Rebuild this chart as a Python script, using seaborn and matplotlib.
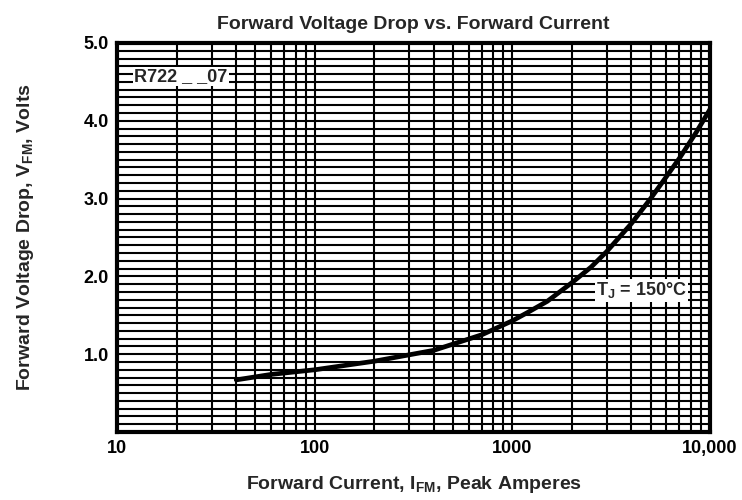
import numpy as np
import pandas as pd
import seaborn as sns
import matplotlib.pyplot as plt
from matplotlib.ticker import MultipleLocator, LogLocator, FixedLocator, NullFormatter

# curve
current = [40, 60, 100, 200, 400, 700, 1000, 1200, 1500, 2000, 2500, 3000, 4000,
           5000, 6000, 7000, 8500, 10000]
voltage = [0.67, 0.74, 0.80, 0.91, 1.05, 1.25, 1.43, 1.54, 1.68, 1.92, 2.12, 2.32, 2.68,
           3.00, 3.28, 3.52, 3.85, 4.15]

x_ticks = [10, 100, 1000, 10000]
x_labels = ["10", "100", "1000", "10,000"]
y_ticks = [1.0, 2.0, 3.0, 4.0, 5.0]
y_labels = ["1.0", "2.0", "3.0", "4.0", "5.0"]

df = pd.DataFrame({"I": current, "V": voltage})

sns.set_style("white")
plt.rcParams['font.family'] = ['Liberation Sans', 'DejaVu Sans']
plt.rcParams['font.weight'] = 'bold'
plt.rcParams['mathtext.fontset'] = 'custom'
plt.rcParams['mathtext.rm'] = 'Liberation Sans:bold'

fig = plt.figure(figsize=(7.42, 5), dpi=100)
ax = fig.add_axes([0.158, 0.136, 0.799, 0.778])

sns.lineplot(x="I", y="V", data=df, ax=ax, color="black", linewidth=3.4, zorder=5)

ax.set_xscale("log")
ax.set_xlim(10, 10000)
ax.set_ylim(0, 5.0)

# dense graph-paper grid
ax.xaxis.set_major_locator(FixedLocator(x_ticks))
ax.xaxis.set_minor_locator(LogLocator(base=10, subs=np.arange(2, 10)))
ax.xaxis.set_minor_formatter(NullFormatter())
ax.yaxis.set_major_locator(FixedLocator(y_ticks))
ax.yaxis.set_minor_locator(MultipleLocator(0.1))
ax.set_xticklabels(x_labels)
ax.set_yticklabels(y_labels)
ax.grid(which="both", color="black", linewidth=1.5)
ax.set_axisbelow(True)
ax.tick_params(which="both", length=0, labelsize=13, pad=6, colors="black")

for s in ax.spines.values():
    s.set_color("black")
    s.set_linewidth(3)

ax.set_title("Forward Voltage Drop vs. Forward Current", fontsize=14, pad=10, fontweight="bold")
ax.set_xlabel("Forward Current, I$_{\\mathrm{FM}}$, Peak Amperes", fontsize=14, labelpad=12,
              fontweight="bold")
ax.set_ylabel("Forward Voltage Drop, V$_{\\mathrm{FM}}$, Volts", fontsize=14, labelpad=34,
              fontweight="bold")

box = dict(facecolor="white", edgecolor="none", pad=1)
ax.text(12.2, 4.57, "R722 _ _07", fontsize=13, va="center", ha="left", bbox=box, zorder=6)
ax.text(2650, 1.82, "T$_{\\mathrm{J}}$ = 150°C", fontsize=13, va="center", ha="left", bbox=box, zorder=6)

fig.savefig("out.png", dpi=100)
